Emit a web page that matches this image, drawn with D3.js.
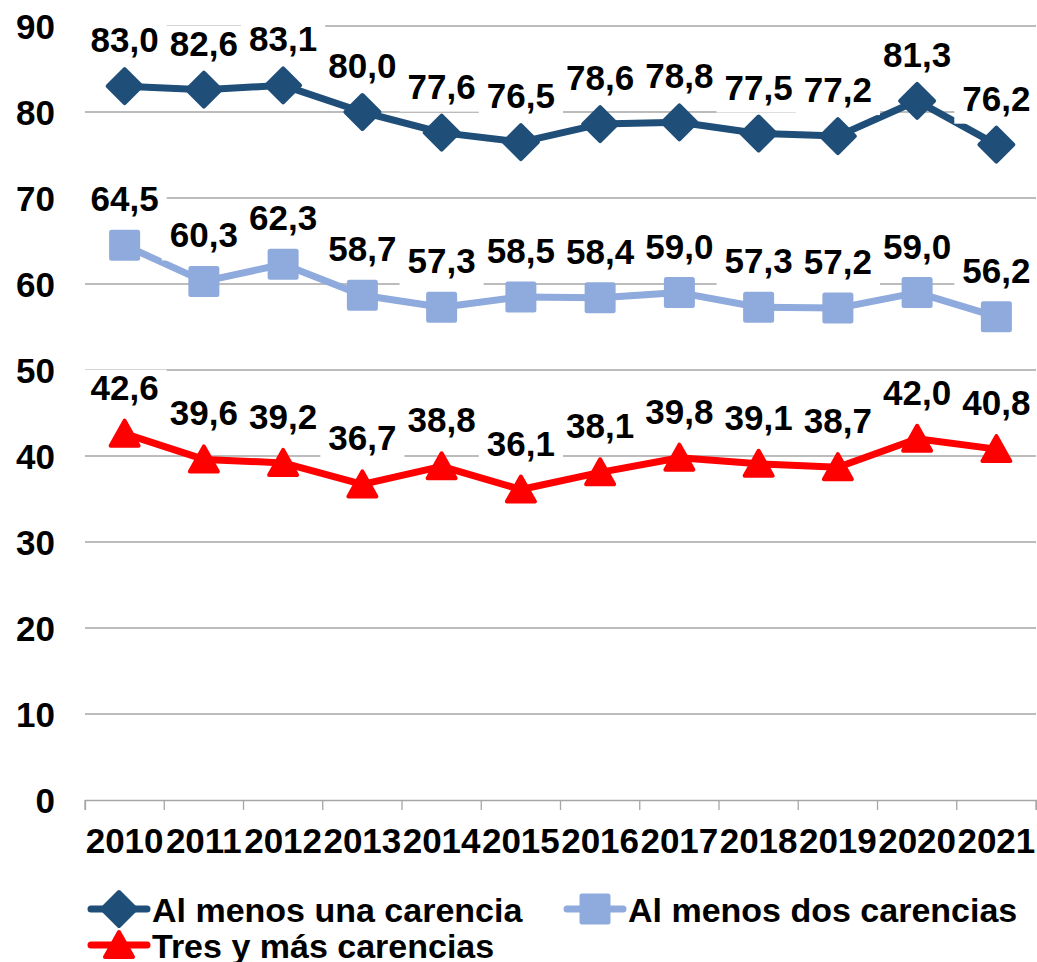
<!DOCTYPE html>
<html>
<head>
<meta charset="utf-8">
<script src="https://cdn.jsdelivr.net/npm/d3@7"></script>
<style>
  body { margin: 0; background: #fff; }
  text { font-family: "Liberation Sans", Arial, sans-serif; font-weight: bold; fill: #000; }
</style>
</head>
<body>
<div id="chart"></div>
<script>
// Data
const years = ["2010", "2011", "2012", "2013", "2014", "2015", "2016", "2017", "2018", "2019", "2020", "2021"];
const unaCarencia = [83.0, 82.6, 83.1, 80.0, 77.6, 76.5, 78.6, 78.8, 77.5, 77.2, 81.3, 76.2];
const dosCarencias = [64.5, 60.3, 62.3, 58.7, 57.3, 58.5, 58.4, 59.0, 57.3, 57.2, 59.0, 56.2];
const tresCarencias = [42.6, 39.6, 39.2, 36.7, 38.8, 36.1, 38.1, 39.8, 39.1, 38.7, 42.0, 40.8];
const yTicks = [0, 10, 20, 30, 40, 50, 60, 70, 80, 90];

const series = [
  { label: "Al menos una carencia", values: unaCarencia, color: "#1F4E79", shape: "diamond" },
  { label: "Al menos dos carencias", values: dosCarencias, color: "#8FAADC", shape: "square" },
  { label: "Tres y más carencias", values: tresCarencias, color: "#FF0000", shape: "triangle" }
];

const width = 1037, height = 962;
const fontSize = 35;

const svg = d3.select("#chart").append("svg")
  .attr("width", width)
  .attr("height", height);

// Scales
const xScale = d3.scaleBand().domain(years).range([85, 1036]).padding(0);
const xc = d => xScale(d) + xScale.bandwidth() / 2;
const yScale = d3.scaleLinear().domain([0, 90]).range([800, 26]);

// Gridlines
svg.append("g")
  .selectAll("line")
  .data(yTicks.filter(t => t > 0))
  .join("line")
    .attr("x1", 85)
    .attr("x2", 1036)
    .attr("y1", d => yScale(d))
    .attr("y2", d => yScale(d))
    .attr("stroke", "#a6a6a6")
    .attr("stroke-width", 1.3);

// Y labels
svg.append("g")
  .selectAll("text")
  .data(yTicks)
  .join("text")
    .attr("x", 55)
    .attr("y", d => yScale(d))
    .attr("text-anchor", "end")
    .attr("dominant-baseline", "central")
    .style("font-size", `${fontSize}px`)
    .text(d => d);

// X axis
const bottomAxis = d3.axisBottom(xScale)
  .tickSize(10)
  .tickFormat("");
const xAxis = svg.append("g")
  .attr("transform", `translate(0, ${yScale(0)})`)
  .call(bottomAxis);
xAxis.select(".domain").attr("stroke", "#a6a6a6").attr("stroke-width", 1.3);
// ticks at band edges
xAxis.selectAll(".tick").remove();
xAxis.selectAll(".edge")
  .data(years.concat(["end"]))
  .join("line")
    .attr("class", "edge")
    .attr("x1", (d, i) => i < years.length ? xScale(d) : xScale.range()[1])
    .attr("x2", (d, i) => i < years.length ? xScale(d) : xScale.range()[1])
    .attr("y1", 0)
    .attr("y2", 10)
    .attr("stroke", "#a6a6a6")
    .attr("stroke-width", 1.3);

svg.append("g")
  .selectAll("text")
  .data(years)
  .join("text")
    .attr("x", d => xc(d))
    .attr("y", 853)
    .attr("text-anchor", "middle")
    .style("font-size", "35px")
    .text(d => d);

// Markers
const markerPath = (shape) => {
  if (shape === "diamond") return "M0,-17L17,0L0,17L-17,0Z";
  if (shape === "square") return "M-13,-13H13V13H-13Z";
  return "M0,-13L14,12L-14,12Z";
};
const drawMarker = (g, shape, color) => {
  g.append("path")
    .attr("d", markerPath(shape))
    .attr("fill", color)
    .attr("stroke", color)
    .attr("stroke-width", shape === "square" ? 5 : 4)
    .attr("stroke-linejoin", "round");
};

const lineGenerator = d3.line()
  .x((d, i) => xc(years[i]))
  .y(d => yScale(d));

series.forEach(s => {
  svg.append("path")
    .attr("d", lineGenerator(s.values))
    .attr("fill", "none")
    .attr("stroke", s.color)
    .attr("stroke-width", 7)
    .attr("stroke-linejoin", "round");

  s.values.forEach((v, i) => {
    const g = svg.append("g")
      .attr("transform", `translate(${xc(years[i])}, ${yScale(v)})`);
    drawMarker(g, s.shape, s.color);
  });
});

// Data labels with white boxes
const fmt = v => d3.format(".1f")(v).replace(".", ",");
series.forEach(s => {
  const labels = svg.append("g");
  s.values.forEach((v, i) => {
    const x = xc(years[i]);
    const y = yScale(v) - 34;
    const lg = labels.append("g");
    const t = lg.append("text")
      .attr("x", x)
      .attr("y", y)
      .attr("text-anchor", "middle")
      .style("font-size", `${fontSize}px`)
      .text(fmt(v));
    const bb = t.node().getBBox();
    lg.insert("rect", "text")
      .attr("x", bb.x - 8)
      .attr("y", bb.y + 2)
      .attr("width", bb.width + 16)
      .attr("height", bb.height + 4)
      .attr("fill", "white");
  });
});

// Legend
const legendItems = [
  { s: series[0], x: 91, y: 909 },
  { s: series[1], x: 567, y: 909 },
  { s: series[2], x: 91, y: 945 }
];
legendItems.forEach(item => {
  const g = svg.append("g").attr("transform", `translate(${item.x}, ${item.y})`);
  g.append("line")
    .attr("x1", 0).attr("x2", 56)
    .attr("y1", 0).attr("y2", 0)
    .attr("stroke", item.s.color)
    .attr("stroke-width", 7)
    .attr("stroke-linecap", "round");
  const m = g.append("g").attr("transform", "translate(28, 0)");
  drawMarker(m, item.s.shape, item.s.color);
  g.append("text")
    .attr("x", 61)
    .attr("y", 13)
    .style("font-size", "34px")
    .text(item.s.label);
});
</script>
</body>
</html>
